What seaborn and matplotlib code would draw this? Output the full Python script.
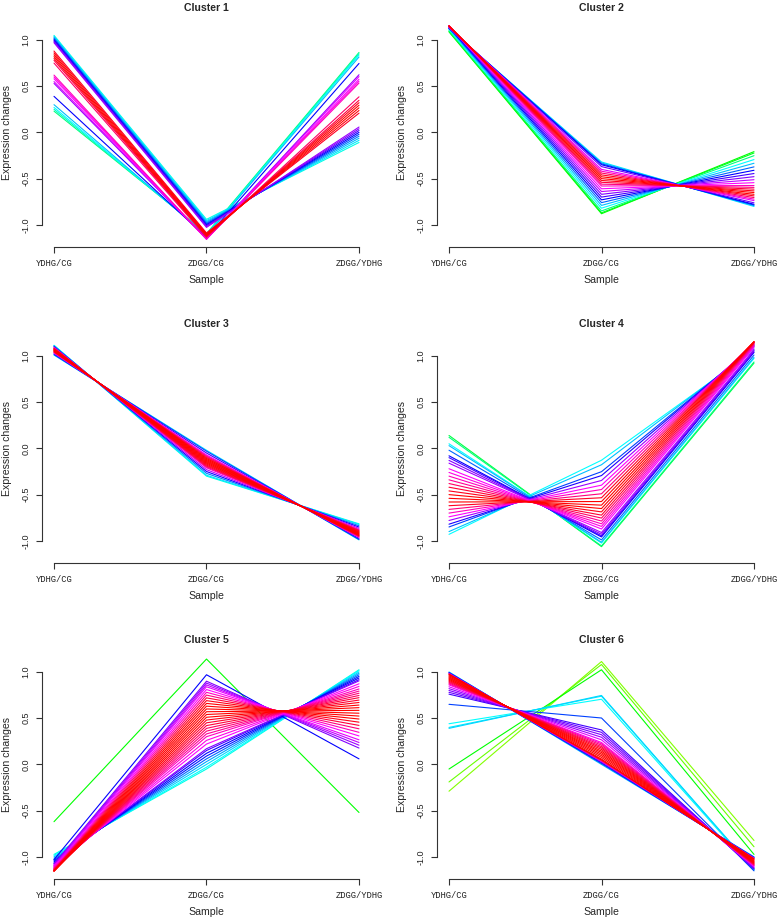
import matplotlib
matplotlib.use("Agg")
import matplotlib.pyplot as plt
from matplotlib.colors import LinearSegmentedColormap
import pandas as pd
import seaborn as sns

samples = ["YDHG/CG", "ZDGG/CG", "ZDGG/YDHG"]
y_ticks = [-1.0, -0.5, 0.0, 0.5, 1.0]
y_tick_labels = ["-1.0", "-0.5", "0.0", "0.5", "1.0"]

# standardised expression per gene (3 samples) + cluster membership (0..1 scaled)
c1_ydhg = [1.05, 1.04, 1.03, 1.02, 1.01, 1.00, 0.99, 0.98, 0.97, 0.88, 0.86, 0.84, 0.82,
           0.80, 0.78, 0.75, 0.62, 0.60, 0.58, 0.55, 0.53, 0.39, 0.30, 0.27, 0.25, 0.23]
c1_zdgg_cg = [-0.941, -0.955, -0.967, -0.979, -0.990, -1.000, -1.010, -1.019, -1.028, -1.088,
              -1.097, -1.106, -1.114, -1.121, -1.127, -1.135, -1.154, -1.154, -1.155, -1.154,
              -1.154, -1.136, -1.116, -1.107, -1.101, -1.095]
c1_zdgg_ydhg = [-0.109, -0.086, -0.063, -0.041, -0.020, 0.000, 0.020, 0.039, 0.058, 0.208,
                0.237, 0.266, 0.294, 0.321, 0.347, 0.385, 0.534, 0.554, 0.575, 0.604, 0.624,
                0.746, 0.816, 0.837, 0.851, 0.865]
c1_member = [0.38, 0.42, 0.45, 0.50, 0.55, 0.60, 0.65, 0.70, 0.72, 0.97, 0.99, 1.00, 1.00,
             0.98, 0.95, 0.92, 0.85, 0.82, 0.80, 0.77, 0.72, 0.60, 0.45, 0.40, 0.35, 0.30]

c2_ydhg = [1.121, 1.123, 1.126, 1.128, 1.132, 1.138, 1.142, 1.145, 1.147, 1.150, 1.151, 1.153,
           1.154, 1.155, 1.155, 1.154, 1.152, 1.149, 1.145, 1.140, 1.133, 1.124, 1.114, 1.102,
           1.093, 1.088]
c2_zdgg_cg = [-0.32, -0.33, -0.34, -0.35, -0.37, -0.40, -0.42, -0.44, -0.46, -0.48, -0.50, -0.52,
              -0.54, -0.56, -0.58, -0.61, -0.64, -0.67, -0.70, -0.73, -0.76, -0.79, -0.82, -0.85,
              -0.87, -0.88]
c2_zdgg_ydhg = [-0.801, -0.793, -0.786, -0.778, -0.762, -0.738, -0.722, -0.705, -0.687, -0.670,
                -0.651, -0.633, -0.614, -0.595, -0.575, -0.544, -0.512, -0.479, -0.445, -0.410,
                -0.373, -0.334, -0.294, -0.252, -0.223, -0.208]
c2_member = [0.42, 0.45, 0.55, 0.60, 0.68, 0.78, 0.85, 0.92, 0.97, 1.00, 1.00, 0.98, 0.95, 0.90,
             0.85, 0.80, 0.75, 0.70, 0.65, 0.60, 0.52, 0.45, 0.40, 0.30, 0.22, 0.20]

c3_ydhg = [1.010, 1.015, 1.024, 1.033, 1.038, 1.042, 1.046, 1.051, 1.055, 1.059, 1.063, 1.067,
           1.070, 1.074, 1.078, 1.081, 1.085, 1.088, 1.095, 1.101, 1.107, 1.113, 1.116]
c3_zdgg_cg = [-0.02, -0.03, -0.05, -0.07, -0.08, -0.09, -0.10, -0.11, -0.12, -0.13, -0.14, -0.15,
              -0.16, -0.17, -0.18, -0.19, -0.20, -0.21, -0.23, -0.25, -0.27, -0.29, -0.30]
c3_zdgg_ydhg = [-0.990, -0.985, -0.974, -0.963, -0.958, -0.952, -0.946, -0.941, -0.935, -0.929,
                -0.923, -0.917, -0.910, -0.904, -0.898, -0.891, -0.885, -0.878, -0.865, -0.851,
                -0.837, -0.823, -0.816]
c3_member = [0.42, 0.55, 0.65, 0.80, 0.86, 0.92, 0.96, 1.00, 1.00, 1.00, 1.00, 1.00, 1.00, 0.98,
             0.97, 0.95, 0.90, 0.85, 0.75, 0.62, 0.50, 0.42, 0.38]

c4_ydhg = [0.14, 0.12, 0.05, 0.03, -0.02, -0.08, -0.10, -0.13, -0.16, -0.22, -0.26, -0.30, -0.34,
           -0.38, -0.42, -0.46, -0.50, -0.54, -0.58, -0.62, -0.66, -0.70, -0.74, -0.78, -0.82,
           -0.85, -0.90, -0.93]
c4_zdgg_cg = [-1.063, -1.055, -1.024, -1.015, -0.990, -0.958, -0.946, -0.929, -0.910, -0.872,
              -0.844, -0.816, -0.786, -0.754, -0.722, -0.687, -0.651, -0.614, -0.575, -0.534,
              -0.491, -0.445, -0.398, -0.347, -0.294, -0.252, -0.177, -0.128]
c4_zdgg_ydhg = [0.923, 0.935, 0.974, 0.985, 1.010, 1.038, 1.046, 1.059, 1.070, 1.092, 1.104,
                1.116, 1.126, 1.134, 1.142, 1.147, 1.151, 1.154, 1.155, 1.154, 1.151, 1.145,
                1.138, 1.127, 1.114, 1.102, 1.077, 1.058]
c4_member = [0.25, 0.30, 0.40, 0.45, 0.52, 0.60, 0.65, 0.70, 0.72, 0.80, 0.82, 0.85, 0.88, 0.92,
             0.96, 0.98, 1.00, 1.00, 1.00, 0.97, 0.90, 0.85, 0.80, 0.72, 0.62, 0.55, 0.45, 0.40]

c5_ydhg = [-0.62, -1.03, -1.077, -1.088, -1.097, -1.106, -1.118, -1.127, -1.135, -1.142, -1.147,
           -1.151, -1.153, -1.154, -1.155, -1.154, -1.152, -1.150, -1.146, -1.142, -1.136,
           -1.130, -1.123, -1.116, -1.104, -1.092, -1.074, -1.067, -1.055, -1.042, -1.029,
           -1.015, -1.000, -0.985, -0.974]
c5_zdgg_cg = [1.14, 0.97, 0.90, 0.88, 0.86, 0.84, 0.81, 0.78, 0.75, 0.72, 0.69, 0.66, 0.63, 0.60,
              0.57, 0.54, 0.51, 0.48, 0.45, 0.42, 0.39, 0.36, 0.33, 0.30, 0.26, 0.22, 0.17, 0.15,
              0.12, 0.09, 0.06, 0.03, 0.00, -0.03, -0.05]
c5_zdgg_ydhg = [-0.52, 0.06, 0.177, 0.208, 0.237, 0.266, 0.308, 0.347, 0.385, 0.422, 0.457,
                0.491, 0.523, 0.554, 0.585, 0.614, 0.642, 0.670, 0.696, 0.722, 0.746, 0.770,
                0.793, 0.816, 0.844, 0.872, 0.904, 0.917, 0.935, 0.952, 0.969, 0.985, 1.000,
                1.015, 1.024]
c5_member = [0.20, 0.60, 0.70, 0.72, 0.75, 0.78, 0.80, 0.85, 0.90, 0.95, 0.98, 1.00, 1.00, 1.00,
             1.00, 1.00, 1.00, 0.98, 0.96, 0.95, 0.92, 0.90, 0.88, 0.85, 0.82, 0.80, 0.70, 0.65,
             0.60, 0.58, 0.52, 0.47, 0.43, 0.40, 0.38]

c6_ydhg = [-0.29, -0.19, -0.05, 0.44, 0.40, 0.39, 0.65, 1.000, 0.995, 0.990, 0.985, 0.980,
           0.975, 0.970, 0.960, 0.950, 0.940, 0.930, 0.920, 0.910, 0.900, 0.890, 0.880, 0.870,
           0.860, 0.840, 0.820, 0.800, 0.780, 0.760]
c6_zdgg_cg = [1.113, 1.081, 1.024, 0.705, 0.738, 0.746, 0.502, 0.000, 0.010, 0.020, 0.029,
              0.039, 0.048, 0.058, 0.076, 0.094, 0.111, 0.128, 0.144, 0.161, 0.177, 0.192,
              0.208, 0.223, 0.237, 0.266, 0.294, 0.321, 0.347, 0.373]
c6_zdgg_ydhg = [-0.823, -0.891, -0.974, -1.145, -1.138, -1.136, -1.152, -1.000, -1.005, -1.010,
                -1.014, -1.019, -1.023, -1.028, -1.036, -1.044, -1.051, -1.058, -1.064, -1.071,
                -1.077, -1.082, -1.088, -1.093, -1.097, -1.106, -1.114, -1.121, -1.127, -1.133]
c6_member = [0.10, 0.12, 0.20, 0.40, 0.42, 0.43, 0.55, 0.45, 0.55, 0.62, 0.75, 0.90, 1.00, 1.00,
             1.00, 1.00, 1.00, 1.00, 1.00, 0.98, 0.96, 0.93, 0.90, 0.86, 0.82, 0.78, 0.72, 0.70,
             0.68, 0.65]

clusters = [
    (c1_ydhg, c1_zdgg_cg, c1_zdgg_ydhg, c1_member),
    (c2_ydhg, c2_zdgg_cg, c2_zdgg_ydhg, c2_member),
    (c3_ydhg, c3_zdgg_cg, c3_zdgg_ydhg, c3_member),
    (c4_ydhg, c4_zdgg_cg, c4_zdgg_ydhg, c4_member),
    (c5_ydhg, c5_zdgg_cg, c5_zdgg_ydhg, c5_member),
    (c6_ydhg, c6_zdgg_cg, c6_zdgg_ydhg, c6_member),
]

# Mfuzz "fancy" colours: low membership yellow/green -> high membership red
fancy = LinearSegmentedColormap.from_list(
    "fancy", ["#FFFF00", "#00FF00", "#00FFFF", "#0000FF", "#FF00FF", "#FF0000"])


def long_frame(ydhg, zcg, zydhg, member):
    rows = []
    for g in range(len(ydhg)):
        for pos, val in zip([1, 2, 3], [ydhg[g], zcg[g], zydhg[g]]):
            rows.append({"gene": g, "pos": pos, "value": val, "member": member[g]})
    df = pd.DataFrame(rows)
    return df.sort_values(["member", "gene", "pos"])


sns.set_theme(style="ticks")
plt.rcParams["font.family"] = ["Liberation Sans", "DejaVu Sans"]

fig = plt.figure(figsize=(7.84, 9.17), dpi=100)
col_left = [41.8 / 784, 436.8 / 784]
row_bottom = [1 - 247 / 917, 1 - 563 / 917, 1 - 879 / 917]
ax_w, ax_h = 329.4 / 784, 229.2 / 917

for i, (a, b, c, m) in enumerate(clusters):
    ax = fig.add_axes([col_left[i % 2], row_bottom[i // 2], ax_w, ax_h])
    df = long_frame(a, b, c, m)
    sns.lineplot(data=df, x="pos", y="value", hue="member", units="gene", estimator=None,
                 palette=fancy, hue_norm=(0, 1), legend=False, lw=0.8, sort=False, ax=ax)

    ax.set_xlim(0.92, 3.08)
    ax.set_ylim(-1.24, 1.24)
    for s in ["top", "right"]:
        ax.spines[s].set_visible(False)
    ax.spines["left"].set_bounds(-1, 1)
    ax.spines["bottom"].set_bounds(1, 3)
    for s in ["left", "bottom"]:
        ax.spines[s].set_linewidth(0.8)
        ax.spines[s].set_color("#333333")

    ax.set_xticks([1, 2, 3])
    ax.set_xticklabels(samples, family="Liberation Mono", fontsize=6.3, color="#222222")
    ax.set_yticks(y_ticks)
    ax.set_yticklabels(y_tick_labels, fontsize=6.5, rotation=90, va="center", color="#222222")
    ax.tick_params(axis="both", length=4, width=0.8, color="#333333")
    ax.tick_params(axis="x", pad=5)
    ax.tick_params(axis="y", pad=4)

    ax.set_xlabel("Sample", fontsize=7.6)
    ax.set_ylabel("Expression changes", fontsize=7.6)
    ax.xaxis.set_label_coords(0.5, -0.12)
    ax.yaxis.set_label_coords(-0.09, 0.5)
    ax.set_title(f"Cluster {i + 1}", fontsize=7.6, fontweight="bold", pad=5)

fig.savefig("out.png", dpi=100)
